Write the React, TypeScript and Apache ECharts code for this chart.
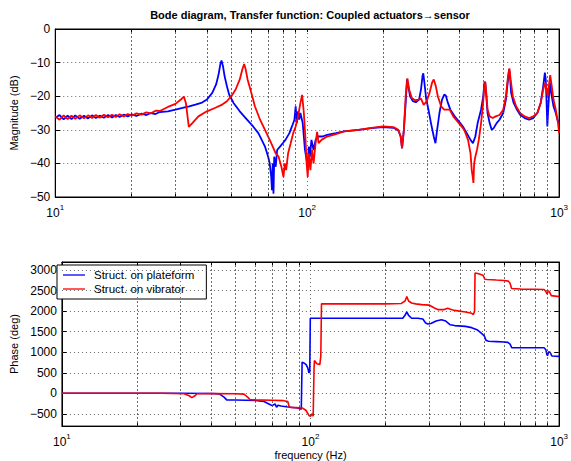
import { useEffect, useRef } from "react";
import * as echarts from "echarts";

// Frequency grid (Hz) and axis ticks
const majorFreqs = [10, 100, 1000];
const minorFreqs = [20, 30, 40, 50, 60, 70, 80, 90, 200, 300, 400, 500, 600, 700, 800, 900];
const magTicks = [-50, -40, -30, -20, -10, 0];
const phaseTicks = [-500, 0, 500, 1000, 1500, 2000, 2500, 3000];
const seriesNames = ["Struct. on plateform", "Struct. on vibrator"];

// Magnitude (dB) vs frequency (Hz)
const magPlatform: [number, number][] = [
  [10, -26.5], [10.4, -25.6], [10.8, -26.9], [11.2, -25.8], [11.6, -26.8], [12, -25.7],
  [12.5, -26.7], [13, -25.8], [13.5, -26.6], [14, -25.7], [14.5, -26.5], [15, -25.8],
  [15.6, -26.4], [16.2, -25.6], [16.8, -26.3], [17.4, -25.6], [18, -26.2], [18.7, -25.5],
  [19.4, -26], [20.1, -25.4], [21, -25.9], [22, -25.2], [23, -25.6], [24, -25], [25, -25.3],
  [26, -24.7], [28, -24.5], [30, -24], [32, -23.5], [34, -23], [36, -22.5],
  [38, -22], [40, -21], [42, -19], [43.5, -16.5], [44.5, -13.5], [45.2, -10.5], [45.7, -9.4],
  [46.3, -11], [47, -14], [48, -17], [49, -19.5], [51, -22], [54, -24.5], [57, -26.5], [61, -29],
  [64, -31], [66, -33], [68, -35], [70, -38], [71, -40], [72, -44], [72.5, -48], [73, -40],
  [73.5, -49], [74, -38], [75, -41], [76, -36], [78, -35], [80, -34], [82, -33], [85, -31],
  [87, -29], [89, -27], [90, -23], [91, -28], [92, -24.5], [93, -27], [94, -25], [96, -28],
  [98, -36], [99.5, -39], [100.5, -41], [101.5, -35], [102.5, -38], [104, -33], [106, -36],
  [108, -33], [110, -32], [115, -32], [120, -31.5], [130, -31], [140, -30.5], [160, -30],
  [180, -29.5], [200, -29.2], [220, -29.4], [230, -30.2], [235, -32], [238, -35.5], [242, -30],
  [246, -22], [249, -15], [252, -17], [256, -20], [263, -21.5], [270, -21.8], [278, -21],
  [283, -18], [287, -14], [289, -13.2], [292, -16], [297, -21], [303, -24], [310, -28],
  [318, -32], [323, -34], [328, -30], [335, -25], [343, -21], [350, -19.5], [355, -19.8],
  [362, -22], [370, -24], [385, -26], [400, -27.5], [415, -29], [430, -31], [445, -33],
  [455, -34], [465, -32], [475, -28], [490, -24], [500, -20], [505, -16], [509, -15.7],
  [514, -20], [520, -25], [530, -28], [540, -30], [550, -29.5], [565, -28], [580, -27],
  [600, -25], [615, -21], [627, -15], [633, -12], [637, -13], [645, -19], [660, -22],
  [680, -24], [700, -25.5], [730, -26.5], [760, -27], [790, -26.5], [820, -25], [845, -22],
  [865, -17], [878, -13], [885, -15], [892, -22], [898, -29], [905, -24], [915, -18],
  [922, -16], [930, -19], [950, -23], [970, -25], [985, -27], [1000, -28],
];

const magVibrator: [number, number][] = [
  [10, -26], [10.4, -27], [10.8, -25.7], [11.2, -26.8], [11.6, -25.8], [12, -26.7],
  [12.5, -25.7], [13, -26.6], [13.5, -25.7], [14, -26.5], [14.5, -25.6], [15, -26.4],
  [15.6, -25.5], [16.2, -26.3], [16.8, -25.5], [17.4, -26.2], [18, -25.4], [18.7, -26],
  [19.4, -25.3], [20.1, -25.8], [21, -25.1], [22, -25.5], [23, -24.8], [24, -25.1],
  [25, -24.3], [26, -24.4], [28, -23.2], [30, -22.3], [31.5, -21], [32.4, -20.1], [33, -22],
  [33.5, -26], [33.9, -29.1], [35, -28], [37, -26], [40, -24.5], [43, -23.5], [46, -22.5],
  [48, -21.5], [50, -20], [52, -18], [54, -15], [55.3, -12], [56.2, -10.4], [57, -12],
  [58, -15], [60, -19], [62, -23], [65, -27], [68, -30], [71, -33], [73, -35], [75, -37],
  [77, -38], [79, -41], [80.5, -44], [81.5, -40], [82.5, -42], [84, -37], [86, -34], [88, -31],
  [90, -29], [92, -26], [94, -22], [95.5, -19.6], [97, -25], [98.5, -33], [99.5, -40],
  [100.5, -44], [101.5, -37], [103, -42], [104.5, -36], [106, -40], [108, -34], [109.5, -30.6],
  [111, -34], [114, -33], [120, -32], [130, -31.3], [140, -30.5], [160, -30], [180, -29.4],
  [200, -29], [220, -29.2], [230, -30], [235, -32], [238, -35.5], [242, -30], [246, -20],
  [250, -14.7], [254, -18], [260, -20.5], [268, -21.2], [276, -21], [283, -20.7], [290, -22.6],
  [298, -21.5], [306, -19], [313, -16], [318, -15], [324, -17], [330, -20], [340, -23],
  [350, -24], [360, -24], [368, -24], [380, -26], [400, -28], [420, -30], [435, -33],
  [445, -37], [450, -42], [454, -44], [457, -45.8], [460, -40], [465, -38], [472, -36],
  [480, -33], [490, -28], [498, -23], [504, -18], [509, -15.7], [514, -19], [520, -24],
  [530, -26], [545, -26.5], [560, -26], [580, -25.6], [600, -24], [615, -20], [627, -14],
  [635, -11.7], [642, -15], [655, -20], [675, -23], [700, -25], [730, -26], [760, -26.5],
  [790, -26], [820, -25], [845, -22], [865, -18], [880, -16], [892, -18], [900, -20],
  [910, -17], [922, -13.7], [935, -17], [950, -21], [970, -24], [990, -28], [1000, -31],
];

// Phase (deg) vs frequency (Hz)
const phasePlatform: [number, number][] = [
  [10, 0], [20, 0], [30, 0], [40, -5], [43, -15], [45, -100], [46, -160], [50, -165],
  [55, -170], [60, -175], [65, -200], [68, -260], [70, -300], [72, -260], [73, -340],
  [74, -290], [76, -310], [80, -330], [85, -345], [89, -360], [91, -380], [91.8, -390],
  [92.5, 760], [94, 740], [96, 700], [97.5, 620], [98.5, 500], [99.3, 520], [99.8, 1830],
  [110, 1830], [150, 1830], [200, 1830], [235, 1830], [240, 1900], [244, 1985], [248, 1900],
  [255, 1830], [270, 1830], [283, 1810], [290, 1720], [295, 1690], [305, 1700], [320, 1760],
  [336, 1790], [350, 1760], [365, 1670], [380, 1650], [420, 1630], [445, 1600], [470, 1540],
  [485, 1470], [500, 1400], [508, 1290], [520, 1270], [560, 1260], [600, 1250], [622, 1240],
  [635, 1200], [645, 1110], [700, 1110], [800, 1110], [870, 1110], [885, 1060], [893, 940],
  [899, 920], [907, 1010], [920, 1000], [935, 910], [1000, 900],
];

const phaseVibrator: [number, number][] = [
  [10, 0], [25, 0], [31, -10], [32.5, -60], [33.3, -106], [34.3, -60], [35, -10], [40, -5],
  [50, -10], [54, -20], [56, -100], [57, -150], [60, -160], [70, -170], [78, -180], [81, -200],
  [82, -320], [83, -343], [88, -350], [93, -360], [96, -420], [98.5, -540], [100, -560],
  [101.5, -500], [102.5, -560], [103.3, 600], [103.7, 800], [106, 720], [109, 700], [110, 900],
  [110.7, 2180], [130, 2180], [200, 2180], [232, 2190], [240, 2250], [244, 2355], [248, 2250],
  [255, 2200], [265, 2180], [280, 2160], [300, 2150], [315, 2080], [325, 2040], [345, 2040],
  [356, 2070], [368, 2040], [380, 2020], [420, 1980], [445, 1950], [452, 1920], [457, 2000],
  [459, 2932], [470, 2920], [488, 2890], [495, 2870], [503, 2780], [513, 2774], [560, 2760],
  [600, 2750], [625, 2734], [635, 2680], [644, 2554], [700, 2540], [800, 2537], [870, 2530],
  [885, 2480], [893, 2419], [899, 2450], [905, 2500], [915, 2470], [930, 2380], [1000, 2355],
];

const FONT = "'Liberation Sans', Arial, Helvetica, sans-serif";
const BLUE = "#0000ff";
const RED = "#ff0000";
const gridLine = { color: "#444", width: 0.8, type: [1, 3] as number[] };
const allFreqTicks = [...majorFreqs, ...minorFreqs].sort((a, b) => a - b);

const minus = (v: number) => String(v).replace("-", "\u2212");

// Bottom axis carries labels; top axis only draws the inner box ticks.
function xAxisFor(gridIndex: number, withName: boolean, top: boolean) {
  return {
    type: "log",
    logBase: 10,
    gridIndex,
    position: top ? "top" : "bottom",
    min: 10,
    max: 1000,
    name: withName ? "frequency (Hz)" : "",
    nameLocation: "middle",
    nameGap: 20,
    nameTextStyle: { fontFamily: FONT, fontSize: 11, color: "#000" },
    axisLine: { show: true, onZero: false, lineStyle: { color: "#000", width: 1 } },
    axisTick: {
      show: true,
      inside: true,
      length: 3,
      customValues: allFreqTicks,
      lineStyle: { color: "#000" },
    },
    splitLine: { show: !top, lineStyle: gridLine },
    axisLabel: {
      show: !top,
      color: "#000",
      margin: 6,
      formatter: (v: number) => `{b|10}{s|${Math.round(Math.log10(v))}}`,
      rich: {
        b: { fontFamily: FONT, fontSize: 12, color: "#000", lineHeight: 16, verticalAlign: "bottom" },
        s: { fontFamily: FONT, fontSize: 8, color: "#000", lineHeight: 16, verticalAlign: "top" },
      },
    },
  };
}

function gridHelper(xAxisIndex: number, yAxisIndex: number, yValues: number[]) {
  return {
    type: "line",
    name: "grid" + xAxisIndex,
    xAxisIndex,
    yAxisIndex,
    data: [],
    silent: true,
    z: 1,
    markLine: {
      silent: true,
      symbol: "none",
      label: { show: false },
      lineStyle: gridLine,
      data: [
        ...minorFreqs.map((f) => ({ xAxis: f })),
        ...yValues.map((v) => ({ yAxis: v })),
      ],
    },
  };
}

function lineSeries(name: string, color: string, data: [number, number][], axis: number, width: number) {
  return {
    type: "line",
    name,
    xAxisIndex: axis,
    yAxisIndex: axis,
    data,
    showSymbol: false,
    symbol: "none",
    z: 3,
    lineStyle: { color, width },
    itemStyle: { color },
  };
}

function magAxis(right: boolean) {
  return {
    type: "value",
    gridIndex: 0,
    position: right ? "right" : "left",
    min: -50,
    max: 0,
    interval: 10,
    name: right ? "" : "Magnitude (dB)",
    nameLocation: "middle",
    nameGap: 26,
    nameTextStyle: { fontFamily: FONT, fontSize: 11, color: "#000" },
    axisLine: { show: true, onZero: false, lineStyle: { color: "#000" } },
    axisTick: { show: true, inside: true, length: 5, lineStyle: { color: "#000" } },
    splitLine: { show: !right, lineStyle: gridLine },
    axisLabel: {
      show: !right,
      fontFamily: FONT,
      fontSize: 12,
      color: "#000",
      margin: 5,
      formatter: (v: number) => (magTicks.includes(v) ? minus(v) : ""),
    },
  };
}

function phaseAxis(right: boolean) {
  return {
    type: "value",
    gridIndex: 1,
    position: right ? "right" : "left",
    min: -800,
    max: 3200,
    name: right ? "" : "Phase (deg)",
    nameLocation: "middle",
    nameGap: 34,
    nameTextStyle: { fontFamily: FONT, fontSize: 11, color: "#000" },
    axisLine: { show: true, onZero: false, lineStyle: { color: "#000" } },
    axisTick: {
      show: true,
      inside: true,
      length: 5,
      customValues: phaseTicks,
      lineStyle: { color: "#000" },
    },
    splitLine: { show: false },
    axisLabel: {
      show: !right,
      fontFamily: FONT,
      fontSize: 12,
      color: "#000",
      margin: 5,
      customValues: phaseTicks,
      formatter: (v: number) => minus(v),
    },
  };
}

export default function App() {
  const ref = useRef<HTMLDivElement>(null);

  useEffect(() => {
    if (!ref.current) return;
    const chart = echarts.init(ref.current, undefined, { renderer: "svg" });
    chart.setOption({
      animation: false,
      backgroundColor: "#fff",
      title: {
        text: "Bode diagram, Transfer function: Coupled actuators\u2192sensor",
        left: 305,
        textAlign: "center",
        top: 4,
        textStyle: { fontFamily: FONT, fontSize: 11, fontWeight: "bold", color: "#000" },
      },
      legend: {
        data: seriesNames,
        left: 57,
        top: 265,
        orient: "vertical",
        backgroundColor: "#fff",
        borderColor: "#000",
        borderWidth: 1,
        borderRadius: 0,
        padding: [4, 12, 4, 6],
        itemGap: 2,
        itemWidth: 22,
        itemHeight: 1.3,
        icon: "rect",
        textStyle: { fontFamily: FONT, fontSize: 11.5, color: "#000", padding: [0, 0, 0, 4] },
      },
      grid: [
        { left: 48, top: 29, width: 513, height: 168, show: true, borderColor: "#000", borderWidth: 1 },
        { left: 48, top: 262, width: 513, height: 169, show: true, borderColor: "#000", borderWidth: 1 },
      ],
      xAxis: [
        xAxisFor(0, false, false),
        xAxisFor(1, true, false),
        xAxisFor(0, false, true),
        xAxisFor(1, false, true),
      ],
      yAxis: [magAxis(false), phaseAxis(false), magAxis(true), phaseAxis(true)],
      series: [
        gridHelper(0, 0, []),
        gridHelper(1, 1, phaseTicks),
        lineSeries(seriesNames[0], BLUE, magPlatform, 0, 1.8),
        lineSeries(seriesNames[1], RED, magVibrator, 0, 1.8),
        lineSeries(seriesNames[0], BLUE, phasePlatform, 1, 1.6),
        lineSeries(seriesNames[1], RED, phaseVibrator, 1, 1.6),
      ],
    });
    return () => chart.dispose();
  }, []);

  return (
    <div
      ref={ref}
      style={{ position: "fixed", left: 0, top: 0, width: 571, height: 461, background: "#fff" }}
    />
  );
}
